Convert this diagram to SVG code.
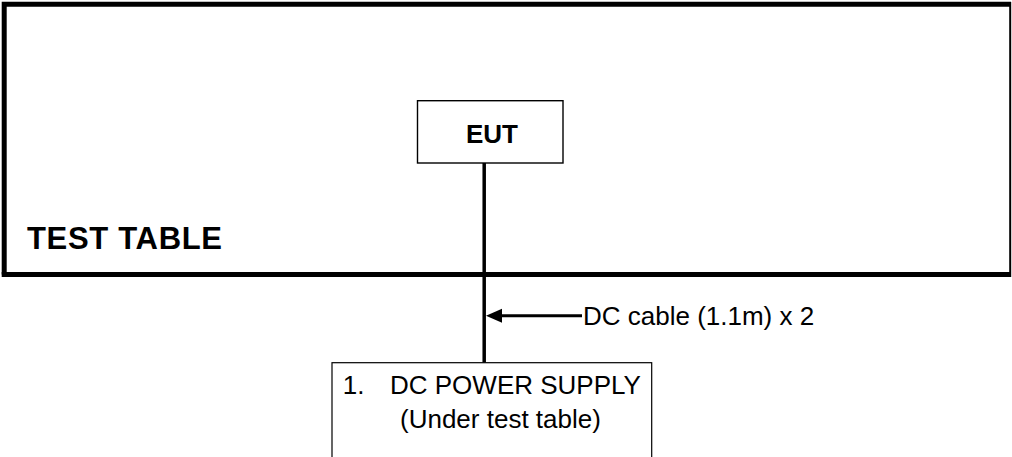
<svg xmlns="http://www.w3.org/2000/svg" width="1012" height="457" viewBox="0 0 1012 457">
<style>
  .box { fill: #ffffff; stroke: #000000; }
  .t { font-family: "Liberation Sans", Arial, sans-serif; fill: #000000; }
  .b { font-weight: bold; }
  .wire { stroke: #000000; fill: none; }
</style>
<rect x="0" y="0" width="1012" height="457" fill="#ffffff"/>
<g id="test-table">
  <path d="M4.2,274.5 V4.2 H1011" fill="none" stroke="#000" stroke-width="5"/>
  <line x1="1.7" y1="274.5" x2="1011" y2="274.5" stroke="#000" stroke-width="5"/>
  <line x1="1010.2" y1="2" x2="1010.2" y2="277" stroke="#000" stroke-width="2"/>
  <text class="t b" x="27" y="249" font-size="31" textLength="195" lengthAdjust="spacing">TEST TABLE</text>
</g>
<g id="eut">
  <rect class="box" x="417.5" y="100.7" width="145.5" height="62.3" stroke-width="1.4"/>
  <text class="t b" x="466" y="142.7" font-size="26">EUT</text>
</g>
<g id="connectors">
  <line class="wire" x1="484.2" y1="163" x2="484.2" y2="362.7" stroke-width="3.5"/>
  <line class="wire" x1="500" y1="315.7" x2="582" y2="315.7" stroke-width="3"/>
  <polygon points="486,315.7 502,308.7 502,322.7" fill="#000"/>
  <text class="t" x="583" y="325" font-size="26">DC cable (1.1m) x 2</text>
</g>
<g id="power-supply">
  <rect class="box" x="332" y="362.7" width="319.7" height="110" stroke-width="1.2"/>
  <text class="t" x="342.7" y="394" font-size="26">1.</text>
  <text class="t" x="390" y="394" font-size="26">DC POWER SUPPLY</text>
  <text class="t" x="400" y="428" font-size="26">(Under test table)</text>
</g>
</svg>
